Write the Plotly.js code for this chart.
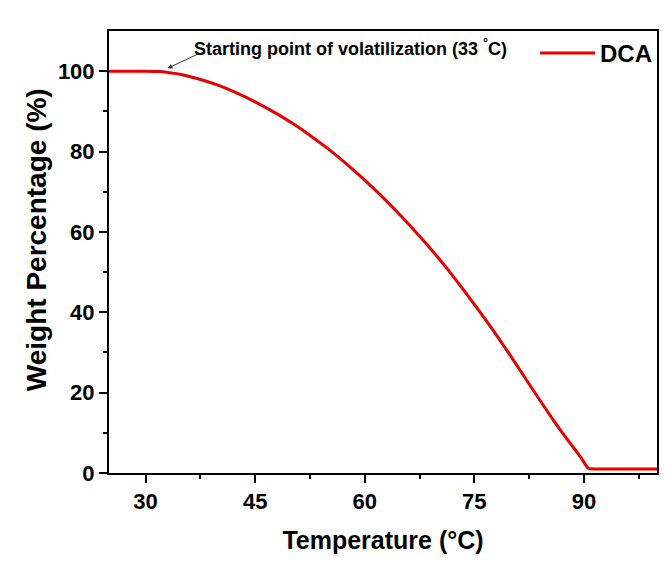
<!DOCTYPE html>
<html>
<head>
<meta charset="utf-8">
<script src="https://cdn.plot.ly/plotly-3.0.1.min.js"></script>
<style>
  html, body { margin: 0; padding: 0; background: #ffffff; }
  #chart { width: 665px; height: 567px; }
</style>
</head>
<body>
<div id="chart"></div>
<script>
// Thermogravimetric curve of DCA: weight remaining vs temperature
const temperature = [25, 30, 32, 33, 34, 35, 36, 38, 40, 42, 45, 48, 50, 52, 55, 58, 60, 62, 65, 68, 70, 72, 75, 78, 80, 82, 84, 86, 88, 89.5, 90.6, 91.0, 91.5, 95, 100];
const weight = [100, 100, 99.9, 99.7, 99.45, 99.1, 98.68, 97.68, 96.45, 94.95, 92.38, 89.38, 87.14, 84.7, 80.65, 76.15, 72.91, 69.47, 63.92, 57.92, 53.68, 49.18, 41.95, 34.4, 29.04, 23.52, 18.04, 12.68, 7.68, 4.08, 1.2, 1.03, 1.0, 1.0, 1.0];

const xTicks = [30, 45, 60, 75, 90];
const yTicks = [0, 20, 40, 60, 80, 100];

const FONT = 'Liberation Sans, Arial, sans-serif';

const trace = {
  x: temperature,
  y: weight,
  type: 'scatter',
  mode: 'lines',
  name: '<b>DCA</b>',
  line: { color: '#e60000', width: 3, shape: 'spline', smoothing: 0.8 }
};

const axisCommon = {
  showgrid: false,
  zeroline: false,
  showline: true,
  linecolor: '#000',
  linewidth: 2,
  mirror: true,
  ticks: 'outside',
  ticklen: 8,
  tickwidth: 2,
  tickcolor: '#000',
  tickfont: { family: FONT, size: 22, color: '#000', weight: 'bold' }
};

const layout = {
  width: 665,
  height: 567,
  margin: { l: 109, r: 8, t: 31, b: 94 },
  paper_bgcolor: '#ffffff',
  plot_bgcolor: '#ffffff',
  font: { family: FONT, color: '#000' },
  xaxis: Object.assign({}, axisCommon, {
    range: [25, 100],
    tickmode: 'array',
    tickvals: xTicks,
    ticktext: xTicks.map(String),
    minor: { tickvals: [37.5, 52.5, 67.5, 82.5, 97.5], ticks: 'outside', ticklen: 4, tickwidth: 2, tickcolor: '#000' },
    title: { text: 'Temperature (°C)', font: { family: FONT, size: 25, color: '#000', weight: 'bold' }, standoff: 18 }
  }),
  yaxis: Object.assign({}, axisCommon, {
    range: [0, 110],
    tickmode: 'array',
    tickvals: yTicks,
    ticktext: yTicks.map(String),
    minor: { tickvals: [10, 30, 50, 70, 90], ticks: 'outside', ticklen: 4, tickwidth: 2, tickcolor: '#000' }
  }),
  showlegend: true,
  legend: {
    x: 1, xanchor: 'right',
    y: 1, yanchor: 'top',
    bgcolor: 'rgba(0,0,0,0)',
    font: { family: FONT, size: 24, color: '#000' },
    itemwidth: 55
  },
  annotations: [
    {
      // y-axis title, placed by hand so it sits slightly above the plot's middle
      x: -0.133, y: 0.527, xref: 'paper', yref: 'paper',
      xanchor: 'center', yanchor: 'middle',
      textangle: -90,
      text: '<b>Weight Percentage (%)</b>',
      showarrow: false,
      font: { family: FONT, size: 28, color: '#000' }
    },
    {
      x: 36.35, y: 106, xref: 'x', yref: 'y',
      xanchor: 'left', yanchor: 'middle',
      text: '<b>Starting point of volatilization (33 <sup>°</sup>C)</b>',
      showarrow: false,
      font: { family: FONT, size: 18, color: '#000' }
    },
    {
      x: 33, y: 100.7, xref: 'x', yref: 'y',
      text: '',
      showarrow: true,
      ax: 32, ay: -15,
      arrowhead: 2,
      arrowsize: 1,
      arrowwidth: 1,
      arrowcolor: '#333'
    }
  ]
};

Plotly.newPlot('chart', [trace], layout, { displayModeBar: false, staticPlot: true });
</script>
</body>
</html>
